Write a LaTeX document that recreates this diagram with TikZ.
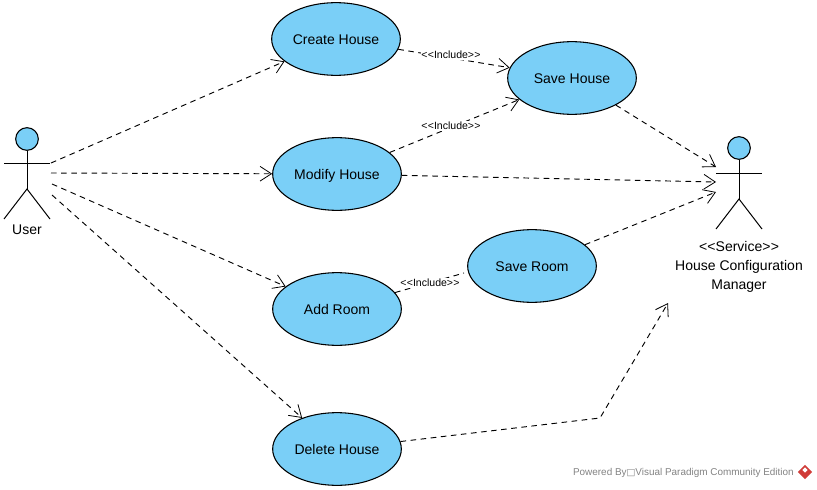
\documentclass[tikz,border=0pt]{standalone}
\usepackage{fontspec}
\setmainfont{Liberation Sans}
\newfontfamily\boxfont{DejaVu Sans}
\usetikzlibrary{arrows.meta}
\usetikzlibrary{shapes.geometric}
\definecolor{ucblue}{RGB}{122,207,247}
\definecolor{vpgray}{RGB}{130,130,130}
\definecolor{vpred}{RGB}{208,60,56}
\newcommand{\stereo}[1]{<\kern0.2pt<#1>\kern0.2pt>}
\tikzset{
	usecase/.style={draw, ellipse, fill=ucblue, line width=0.8pt, inner sep=0pt, minimum width=96.5pt, minimum height=54.5pt, text height=9.8pt, text depth=1pt, font=\fontsize{10.5}{12}\selectfont},
	head/.style={draw, circle, fill=ucblue, line width=0.8pt, inner sep=0pt, minimum size=17pt},
	stick/.style={line width=0.75pt},
	dep/.style={draw, dashed, dash pattern=on 4.2pt off 3.4pt, line width=0.7pt},
	deparrow/.style={dep, -{Straight Barb[length=8.5pt,width=11pt,line width=0.6pt]}},
	incl/.style={fill=white, inner sep=0.6pt, font=\fontsize{7.9}{9}\selectfont},
	actortext/.style={font=\fontsize{10.5}{14.2}\selectfont, align=center}
}
\begin{document}
\begin{tikzpicture}[x=0.75pt, y=-0.75pt]
	\useasboundingbox (0, 0) rectangle (817, 489);

	\node[usecase] (create) at (336, 39) {Create House};
	\node[usecase] (modify) at (337, 174) {Modify House};
	\node[usecase] (addroom) at (337, 309) {Add Room};
	\node[usecase] (delete) at (337, 449) {Delete House};
	\node[usecase] (savehouse) at (572, 78) {Save House};
	\node[usecase] (saveroom) at (532, 266) {Save Room};

	\node[head] (userhead) at (27, 139) {};
	\coordinate (userneck) at (27, 189);
	\coordinate (userlarm) at (4, 163);
	\coordinate (userrarm) at (50, 163);
	\coordinate (userlleg) at (4, 219);
	\coordinate (userrleg) at (50, 219);
	\draw[stick] (userhead) -- (userneck);
	\draw[stick] (userlarm) -- (userrarm);
	\draw[stick] (userlleg) -- (userneck) -- (userrleg);
	\node[actortext] (user) at (27, 230) {User};

	\node[head] (mgrhead) at (739, 148) {};
	\coordinate (mgrneck) at (739, 199);
	\coordinate (mgrlarm) at (716, 173);
	\coordinate (mgrrarm) at (762, 173);
	\coordinate (mgrlleg) at (716, 229);
	\coordinate (mgrrleg) at (762, 229);
	\draw[stick] (mgrhead) -- (mgrneck);
	\draw[stick] (mgrlarm) -- (mgrrarm);
	\draw[stick] (mgrlleg) -- (mgrneck) -- (mgrrleg);
	\node[actortext, anchor=north] (mgr) at (739, 237) {\stereo{Service}\\House Configuration\\Manager};

	\coordinate (usera) at (51, 163);
	\coordinate (userb) at (51, 173);
	\coordinate (userc) at (52, 184);
	\coordinate (userd) at (52, 195);
	\coordinate (mgra) at (716, 167);
	\coordinate (mgrb) at (716, 182);
	\coordinate (mgrc) at (716, 192);
	\coordinate (mgrd) at (668, 303);
	\coordinate (bend) at (600, 418);
	\coordinate (roomend) at (464, 273);

	\path[deparrow] (usera) -- (create);
	\path[deparrow] (userb) -- (modify);
	\path[deparrow] (userc) -- (addroom);
	\path[deparrow] (userd) -- (delete);
	\path[deparrow] (create) -- (savehouse);
	\path[deparrow] (modify) -- (savehouse);
	\path[dep] (addroom) -- (roomend);
	\path[deparrow] (savehouse) -- (mgra);
	\path[deparrow] (modify) -- (mgrb);
	\path[deparrow] (saveroom) -- (mgrc);
	\path[deparrow] (delete) -- (bend) -- (mgrd);

	\node[incl] (inclcreate) at (451, 55) {\stereo{Include}};
	\node[incl] (inclmodify) at (451, 126) {\stereo{Include}};
	\node[incl] (incladd) at (430, 283) {\stereo{Include}};

	\node[text=vpgray, anchor=east, inner sep=0pt, font=\fontsize{7.45}{9}\selectfont] (powered) at (794, 473) {Powered By{\boxfont\fontsize{7}{8}\selectfont □}Visual Paradigm Community Edition};
	\node[diamond, fill=vpred, inner sep=0pt, minimum size=11pt] (logo) at (805, 472) {};
	\node[diamond, fill=white, inner sep=0pt, minimum size=4pt] (logoinner) at (805, 470) {};
\end{tikzpicture}
\end{document}
